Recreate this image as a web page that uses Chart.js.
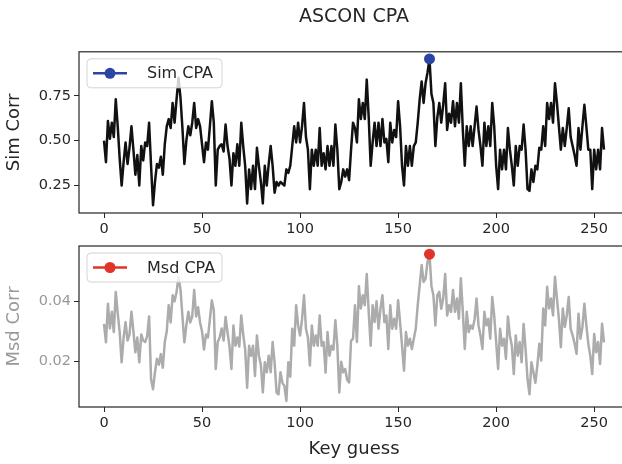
<!DOCTYPE html>
<html>
<head>
<meta charset="utf-8">
<script src="https://cdn.jsdelivr.net/npm/chart.js@4.4.1/dist/chart.umd.min.js"></script>
<style>
  html, body { margin: 0; padding: 0; background: #fff; overflow: hidden; width: 622px; height: 464px; }
  canvas { position: absolute; left: 0; }
</style>
</head>
<body>
<canvas id="simChart" width="640" height="240" style="top:0"></canvas>
<canvas id="msdChart" width="640" height="224" style="top:240px"></canvas>
<script>
const keyTicks = [0, 50, 100, 150, 200, 250];
const simTicks = [0.25, 0.5, 0.75];
const msdTicks = [0.02, 0.04];

// correlation per key guess
const simCorr = [
    0.50, 0.38, 0.61, 0.51, 0.60, 0.52, 0.73, 0.58, 0.40, 0.25, 0.38, 0.49, 0.37, 0.46, 0.58, 0.45,
    0.31, 0.42, 0.25, 0.47, 0.39, 0.49, 0.47, 0.60, 0.36, 0.14, 0.27, 0.37, 0.35, 0.41, 0.31, 0.48,
    0.58, 0.62, 0.57, 0.71, 0.60, 0.73, 0.85, 0.74, 0.57, 0.37, 0.50, 0.58, 0.53, 0.60, 0.71, 0.57,
    0.62, 0.58, 0.48, 0.38, 0.49, 0.45, 0.58, 0.72, 0.60, 0.25, 0.45, 0.47, 0.48, 0.44, 0.59, 0.47,
    0.40, 0.25, 0.43, 0.36, 0.48, 0.36, 0.60, 0.47, 0.36, 0.15, 0.34, 0.23, 0.36, 0.23, 0.46, 0.36,
    0.27, 0.15, 0.36, 0.25, 0.37, 0.47, 0.36, 0.21, 0.27, 0.25, 0.27, 0.26, 0.25, 0.34, 0.32, 0.36,
    0.47, 0.58, 0.49, 0.60, 0.49, 0.58, 0.71, 0.52, 0.45, 0.23, 0.45, 0.36, 0.45, 0.36, 0.57, 0.36,
    0.43, 0.34, 0.47, 0.36, 0.47, 0.36, 0.59, 0.45, 0.23, 0.27, 0.34, 0.30, 0.34, 0.28, 0.45, 0.60,
    0.57, 0.49, 0.73, 0.62, 0.71, 0.62, 0.84, 0.63, 0.36, 0.49, 0.60, 0.47, 0.60, 0.47, 0.62, 0.49,
    0.51, 0.38, 0.60, 0.49, 0.56, 0.52, 0.72, 0.58, 0.36, 0.25, 0.47, 0.36, 0.47, 0.36, 0.47, 0.49,
    0.60, 0.73, 0.83, 0.71, 0.82, 0.88, 0.955, 0.76, 0.71, 0.47, 0.63, 0.71, 0.60, 0.70, 0.82, 0.56,
    0.65, 0.60, 0.72, 0.58, 0.71, 0.60, 0.82, 0.56, 0.36, 0.58, 0.47, 0.58, 0.47, 0.58, 0.69, 0.56,
    0.47, 0.36, 0.60, 0.47, 0.58, 0.47, 0.71, 0.58, 0.36, 0.23, 0.45, 0.34, 0.45, 0.34, 0.57, 0.45,
    0.36, 0.25, 0.47, 0.36, 0.47, 0.45, 0.59, 0.45, 0.23, 0.22, 0.34, 0.27, 0.36, 0.34, 0.46, 0.45,
    0.58, 0.47, 0.71, 0.62, 0.71, 0.60, 0.82, 0.71, 0.58, 0.45, 0.57, 0.47, 0.57, 0.68, 0.52, 0.47,
    0.42, 0.36, 0.57, 0.45, 0.58, 0.70, 0.58, 0.45, 0.45, 0.23, 0.45, 0.34, 0.45, 0.34, 0.57, 0.45
];

const msdCorr = [
    0.0325, 0.0264, 0.0392, 0.0310, 0.0365, 0.0298, 0.0431, 0.0360, 0.0298, 0.0198, 0.0280, 0.0331, 0.0270, 0.0290, 0.0365, 0.0300,
    0.0231, 0.0280, 0.0198, 0.0290, 0.0270, 0.0265, 0.0285, 0.0350, 0.0142, 0.0109, 0.0165, 0.0210, 0.0190, 0.0225, 0.0180, 0.0265,
    0.0300, 0.0387, 0.0330, 0.0420, 0.0400, 0.0431, 0.0480, 0.0440, 0.0350, 0.0264, 0.0320, 0.0365, 0.0330, 0.0350, 0.0437, 0.0350,
    0.0380, 0.0330, 0.0300, 0.0240, 0.0290, 0.0280, 0.0340, 0.0403, 0.0370, 0.0176, 0.0265, 0.0280, 0.0310, 0.0270, 0.0348, 0.0298,
    0.0250, 0.0176, 0.0320, 0.0253, 0.0280, 0.0250, 0.0353, 0.0290, 0.0240, 0.0114, 0.0253, 0.0220, 0.0253, 0.0153, 0.0287, 0.0220,
    0.0190, 0.0098, 0.0198, 0.0165, 0.0220, 0.0165, 0.0265, 0.0198, 0.0098, 0.0092, 0.0165, 0.0130, 0.0120, 0.0070, 0.0198, 0.0150,
    0.0309, 0.0253, 0.0387, 0.0320, 0.0287, 0.0340, 0.0420, 0.0309, 0.0280, 0.0187, 0.0320, 0.0253, 0.0287, 0.0253, 0.0353, 0.0253,
    0.0265, 0.0164, 0.0298, 0.0220, 0.0253, 0.0240, 0.0337, 0.0253, 0.0098, 0.0200, 0.0165, 0.0176, 0.0140, 0.0131, 0.0270, 0.0276,
    0.0387, 0.0265, 0.0450, 0.0376, 0.0420, 0.0387, 0.0490, 0.0365, 0.0253, 0.0387, 0.0331, 0.0400, 0.0309, 0.0375, 0.0420, 0.0331,
    0.0353, 0.0242, 0.0387, 0.0309, 0.0342, 0.0309, 0.0403, 0.0331, 0.0253, 0.0170, 0.0298, 0.0253, 0.0276, 0.0242, 0.0276, 0.0309,
    0.0387, 0.0453, 0.0520, 0.0464, 0.0475, 0.0531, 0.0556, 0.0450, 0.0420, 0.0320, 0.0420, 0.0431, 0.0375, 0.0410, 0.0490, 0.0353,
    0.0387, 0.0365, 0.0437, 0.0365, 0.0409, 0.0342, 0.0476, 0.0365, 0.0242, 0.0365, 0.0298, 0.0320, 0.0309, 0.0340, 0.0409, 0.0320,
    0.0287, 0.0242, 0.0365, 0.0320, 0.0342, 0.0276, 0.0414, 0.0353, 0.0265, 0.0176, 0.0309, 0.0253, 0.0276, 0.0209, 0.0350, 0.0287,
    0.0253, 0.0159, 0.0287, 0.0220, 0.0265, 0.0198, 0.0325, 0.0242, 0.0142, 0.0092, 0.0198, 0.0165, 0.0130, 0.0187, 0.0259, 0.0204,
    0.0376, 0.0320, 0.0448, 0.0376, 0.0409, 0.0353, 0.0481, 0.0409, 0.0342, 0.0248, 0.0376, 0.0315, 0.0353, 0.0414, 0.0309, 0.0287,
    0.0260, 0.0226, 0.0359, 0.0276, 0.0315, 0.0392, 0.0320, 0.0259, 0.0220, 0.0159, 0.0292, 0.0231, 0.0265, 0.0192, 0.0326, 0.0264
];

const keyGuesses = simCorr.map((_, i) => i);

Chart.defaults.font.family = "'DejaVu Sans', sans-serif";
Chart.defaults.color = '#262626';
Chart.defaults.animation = false;

const ink = '#262626';

// axes box + legend in the upper left corner, like matplotlib
const boxAndLegend = {
    id: 'boxAndLegend',
    afterDatasetsDraw(chart, args, opts) {
        const { ctx, chartArea: a } = chart;
        ctx.save();
        ctx.strokeStyle = ink;
        ctx.lineWidth = 1.2;
        ctx.strokeRect(a.left, a.top, a.right - a.left, a.bottom - a.top);

        const x = a.left + 8, y = a.top + 7, w = 135, h = 29;
        ctx.beginPath();
        ctx.roundRect(x, y, w, h, 4);
        ctx.fillStyle = 'rgba(255,255,255,0.8)';
        ctx.fill();
        ctx.strokeStyle = '#d4d4d4';
        ctx.lineWidth = 1;
        ctx.stroke();

        const cy = y + h / 2;
        ctx.strokeStyle = opts.color;
        ctx.lineWidth = 2.5;
        ctx.beginPath();
        ctx.moveTo(x + 6, cy);
        ctx.lineTo(x + 40, cy);
        ctx.stroke();
        ctx.fillStyle = opts.color;
        ctx.beginPath();
        ctx.arc(x + 23, cy, 5.5, 0, Math.PI * 2);
        ctx.fill();

        ctx.fillStyle = ink;
        ctx.font = "16px 'DejaVu Sans'";
        ctx.textBaseline = 'middle';
        ctx.fillText(opts.text, x + 60, cy + 1);
        ctx.restore();
    }
};

function peakIndex(values) {
    let k = 0;
    values.forEach((v, i) => { if (v > values[k]) k = i; });
    return k;
}

function makeChart(canvasId, cfg) {
    const peak = peakIndex(cfg.values);
    return new Chart(document.getElementById(canvasId), {
        type: 'line',
        data: {
            datasets: [
                {
                    data: [{ x: keyGuesses[peak], y: cfg.values[peak] }],
                    showLine: false,
                    pointRadius: 5.5,
                    pointBorderWidth: 0,
                    pointBackgroundColor: cfg.dotColor,
                    clip: false
                },
                {
                    data: keyGuesses.map((k, i) => ({ x: k, y: cfg.values[i] })),
                    borderColor: cfg.lineColor,
                    borderWidth: 2.5,
                    borderJoinStyle: 'round',
                    pointRadius: 0,
                    tension: 0,
                    fill: false
                }
            ]
        },
        plugins: [boxAndLegend],
        options: {
            responsive: false,
            events: [],
            layout: { padding: { left: 0, right: 11, top: cfg.padTop, bottom: 0 } },
            plugins: {
                legend: { display: false },
                tooltip: { enabled: false },
                title: cfg.title ? {
                    display: true,
                    text: cfg.title,
                    fullSize: false,
                    color: ink,
                    font: { size: 19, weight: 'normal' },
                    padding: { top: 6, bottom: 23 }
                } : { display: false },
                boxAndLegend: { text: cfg.legend, color: cfg.dotColor }
            },
            scales: {
                x: {
                    type: 'linear',
                    min: -12.75,
                    max: 267.75,
                    afterBuildTicks: s => { s.ticks = keyTicks.map(v => ({ value: v })); },
                    afterFit: s => { s.height = cfg.xHeight; },
                    border: { display: false },
                    grid: { drawOnChartArea: false, drawTicks: true, tickLength: 5, tickColor: ink },
                    ticks: { color: ink, font: { size: 14.5 }, padding: 3, maxRotation: 0, autoSkip: false },
                    title: cfg.xTitle ? {
                        display: true,
                        text: cfg.xTitle,
                        color: ink,
                        font: { size: 18 },
                        padding: { top: 0, bottom: 4 }
                    } : { display: false }
                },
                y: {
                    min: cfg.yMin,
                    max: cfg.yMax,
                    afterBuildTicks: s => { s.ticks = cfg.yTicks.map(v => ({ value: v })); },
                    afterFit: s => { s.width = 79; s.paddingTop = 0; s.paddingBottom = 0; },
                    border: { display: false },
                    grid: { drawOnChartArea: false, drawTicks: true, tickLength: 5, tickColor: ink },
                    ticks: { color: cfg.yColor, font: { size: 14.5 }, padding: 3, callback: v => v.toFixed(2) },
                    title: {
                        display: true,
                        text: cfg.yTitle,
                        color: cfg.yColor,
                        font: { size: 18 },
                        padding: { top: 4, bottom: 0 }
                    }
                }
            }
        }
    });
}

makeChart('simChart', {
    values: simCorr,
    title: 'ASCON CPA',
    legend: 'Sim CPA',
    lineColor: '#111111',
    dotColor: '#2b45a5',
    yTitle: 'Sim Corr',
    yColor: ink,
    yTicks: simTicks,
    yMin: 0.097,
    yMax: 0.995,
    padTop: 0,
    xHeight: 27
});

makeChart('msdChart', {
    values: msdCorr,
    legend: 'Msd CPA',
    lineColor: '#acacac',
    dotColor: '#e2332a',
    yTitle: 'Msd Corr',
    xTitle: 'Key guess',
    yColor: '#999999',
    yTicks: msdTicks,
    yMin: 0.005,
    yMax: 0.0583,
    padTop: 6,
    xHeight: 57
});
</script>
</body>
</html>
